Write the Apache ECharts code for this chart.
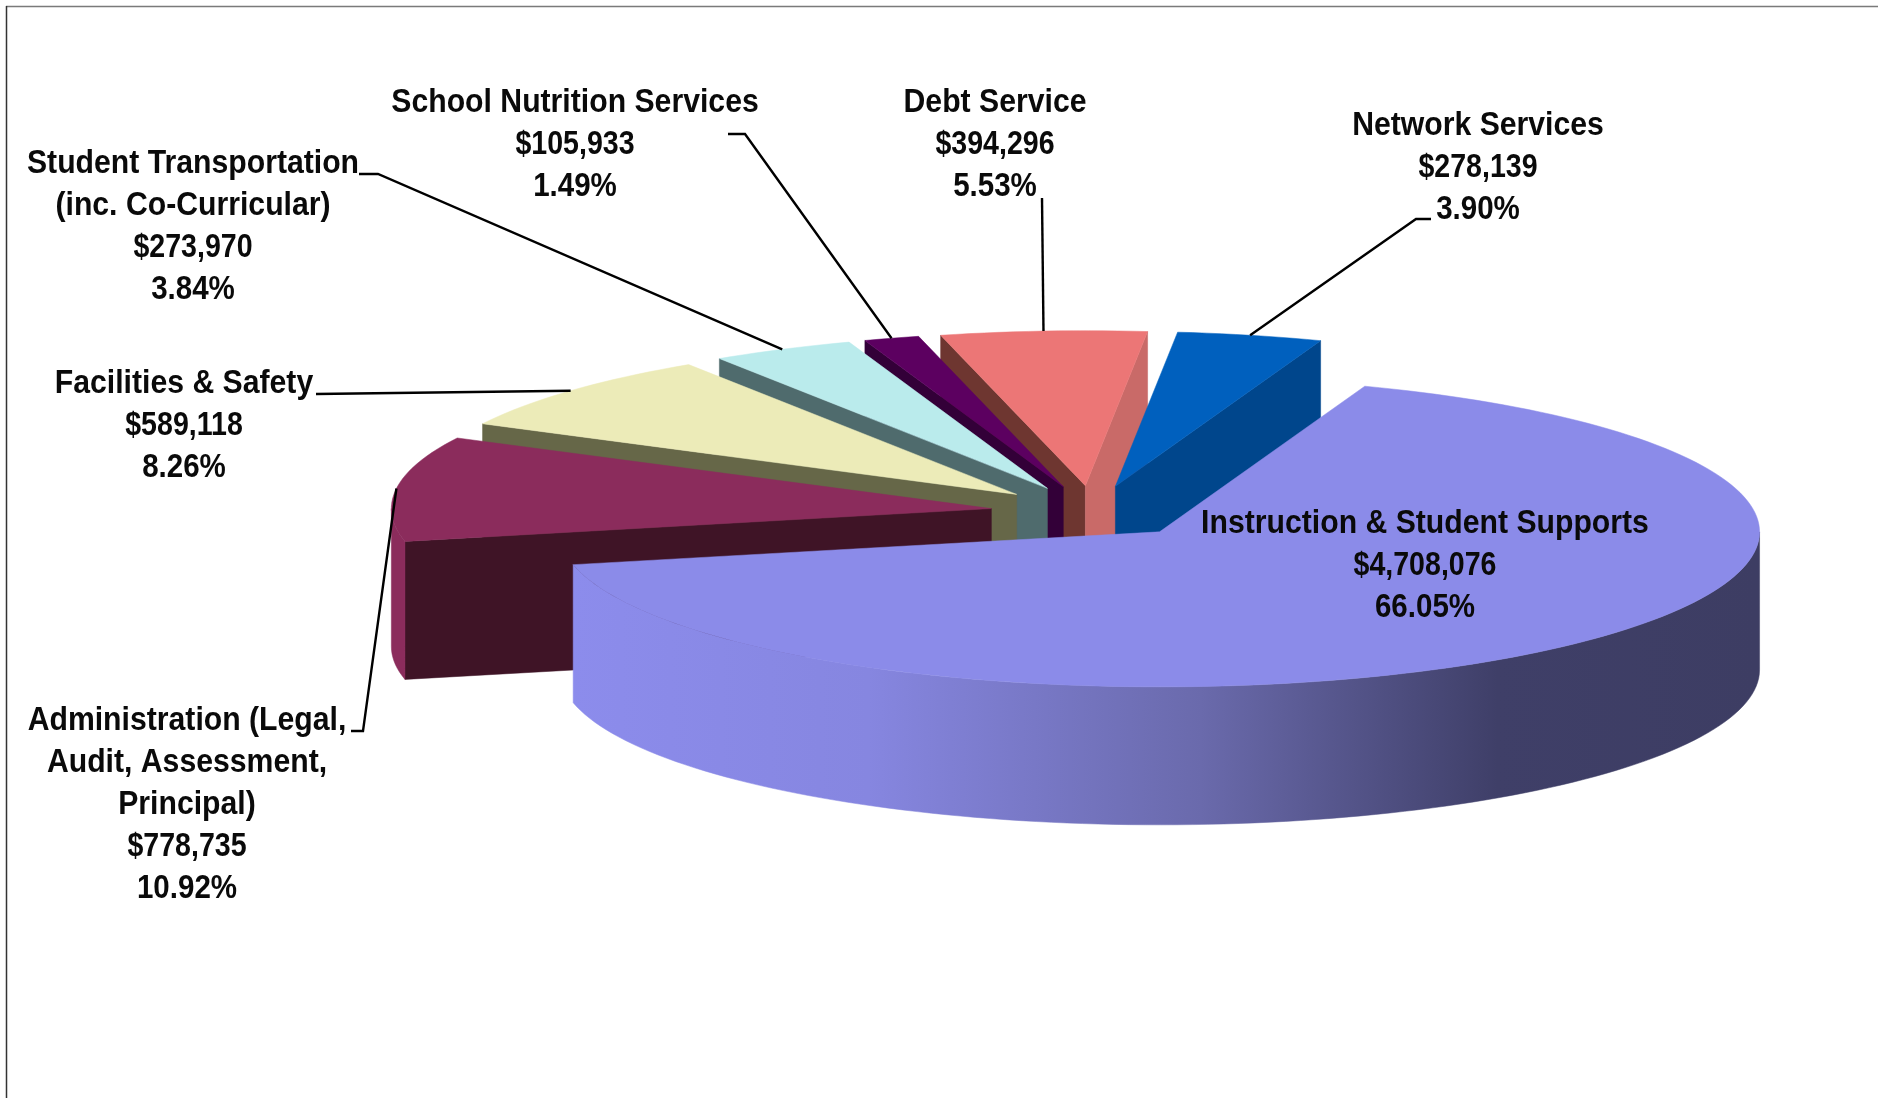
<!DOCTYPE html>
<html>
<head>
<meta charset="utf-8">
<title>Budget by function</title>
<script src="https://cdn.jsdelivr.net/npm/echarts@6/dist/echarts.min.js"></script>
<style>
  html, body { margin: 0; padding: 0; background: #fff; }
  #chart { width: 1878px; height: 1098px; }
</style>
</head>
<body>
<div id="chart"></div>
<script>
// Budget figures, clockwise from the first slice
const nameLines = [
  ['Instruction & Student Supports'],
  ['Administration (Legal,', 'Audit, Assessment,', 'Principal)'],
  ['Facilities & Safety'],
  ['Student Transportation', '(inc. Co-Curricular)'],
  ['School Nutrition Services'],
  ['Debt Service'],
  ['Network Services']
];
const amounts = [4708076, 778735, 589118, 273970, 105933, 394296, 278139];
const percentLabels = ['66.05%', '10.92%', '8.26%', '3.84%', '1.49%', '5.53%', '3.90%'];

// Fill colours per slice
const topColors = ['#8B8BE9', '#8B2C5C', '#ECEBB8', '#BAEBEC', '#5C0060', '#EC7676', '#0060BE'];
const leadingWallColors = ['#8B8BE9', '#3F1426', '#666748', '#4F6B6D', '#330038', '#6E3630', '#00468C'];
const trailingWallColors = ['#8B8BE9', '#3F1426', '#666748', '#4F6B6D', '#330038', '#C96A68', '#00468C'];
const rimColors = ['#8B8BE9', '#8B2C5C', '#ECEBB8', '#BAEBEC', '#5C0060', '#EC7676', '#0060BE'];

// Projection of the tilted pie
const pie = { cx: 1092.5, cy: 512, rx: 600, ry: 155, depth: 138, explode: 0.17, startDeg: 20 };

// Label block centres and leader elbows, by slice
const labelCenterX = [1425, 187, 184, 193, 575, 995, 1478];
const labelTopY = [503, 700, 363, 143, 82, 82, 105];
const leaderElbows = [
  null,
  [[351, 731], [363, 731]],
  [[316, 394]],
  [[359, 174], [378, 174]],
  [[728, 134], [745, 134]],
  [[1042, 198]],
  [[1431, 219], [1416, 219]]
];
const labelFont = { size: 34, lineHeight: 42, nameSqueeze: 0.888, moneySqueeze: 0.84, percentSqueeze: 0.868 };

const total = amounts.reduce((a, b) => a + b, 0);
const RAD = Math.PI / 180;
const slices = [];
amounts.reduce((start, v, i) => {
  const sweep = v / total * 360;
  const mid = start + sweep / 2;
  const e = pie.explode;
  slices.push({
    i, a1: start, a2: start + sweep, mid,
    ax: pie.cx + e * pie.rx * Math.sin(mid * RAD),
    ay: pie.cy - e * pie.ry * Math.cos(mid * RAD)
  });
  return start + sweep;
}, pie.startDeg);

function rimPoint(s, deg, drop) {
  return [s.ax + pie.rx * Math.sin(deg * RAD), s.ay - pie.ry * Math.cos(deg * RAD) + (drop || 0)];
}
function arcPoints(s, from, to, drop) {
  const n = Math.max(2, Math.ceil(Math.abs(to - from) / 1.5));
  const pts = [];
  for (let k = 0; k <= n; k++) pts.push(rimPoint(s, from + (to - from) * k / n, drop));
  return pts;
}
function poly(points, fill) {
  return { type: 'polygon', shape: { points }, style: { fill, stroke: fill, lineWidth: 0.5 } };
}

// Shaded front rim of the largest slice runs from light to dark across the page
const frontShade = new echarts.graphic.LinearGradient(572, 0, 1758, 0, [
  { offset: 0, color: '#8C8CEC' },
  { offset: 0.25, color: '#8686E0' },
  { offset: 0.53, color: '#6A6AAC' },
  { offset: 0.78, color: '#3F3F68' },
  { offset: 1, color: '#3D3D63' }
], true);

function sliceElements(s) {
  const children = [];
  const apex = [s.ax, s.ay];
  const apexLow = [s.ax, s.ay + pie.depth];
  // Cut faces that turn toward the viewer
  if (Math.sin(s.a1 * RAD) < 0) {
    const o = rimPoint(s, s.a1), ol = rimPoint(s, s.a1, pie.depth);
    children.push(poly([apex, o, ol, apexLow], leadingWallColors[s.i]));
  }
  if (Math.sin(s.a2 * RAD) > 0) {
    const o = rimPoint(s, s.a2), ol = rimPoint(s, s.a2, pie.depth);
    children.push(poly([apex, o, ol, apexLow], trailingWallColors[s.i]));
  }
  // Outer wall, only on the front half of the ellipse
  const from = Math.max(s.a1, 90);
  const to = Math.min(s.a2, 270);
  if (to > from) {
    const upper = arcPoints(s, from, to, 0);
    const lower = arcPoints(s, to, from, pie.depth);
    children.push(poly(upper.concat(lower), s.i === 0 ? frontShade : rimColors[s.i]));
  }
  // Top face
  children.push(poly([apex].concat(arcPoints(s, s.a1, s.a2, 0)), topColors[s.i]));
  return { type: 'group', children };
}

// Back slices first so nearer ones overlap them
const paintOrder = slices.slice().sort((a, b) => Math.cos(b.mid * RAD) - Math.cos(a.mid * RAD));

function formatMoney(v) {
  return '$' + v.toString().replace(/\B(?=(\d{3})+$)/g, ',');
}

// One centred, horizontally condensed line of a label block
function labelLine(text, x, y, squeeze) {
  return {
    type: 'text',
    x,
    y,
    scaleX: squeeze,
    style: {
      x: 0,
      y: 0,
      text,
      align: 'center',
      verticalAlign: 'top',
      fontFamily: '"Liberation Sans", Arial, sans-serif',
      fontWeight: 'bold',
      fontSize: labelFont.size,
      lineHeight: labelFont.lineHeight,
      fill: '#0a0a0a'
    }
  };
}

const chart = echarts.init(document.getElementById('chart'));
chart.setOption({
  animation: false,
  backgroundColor: '#ffffff',
  graphic: [
    { type: 'line', shape: { x1: 6, y1: 6.5, x2: 1878, y2: 6.5 }, style: { stroke: '#7a7a7a', lineWidth: 1.5 } },
    { type: 'line', shape: { x1: 6.5, y1: 6, x2: 6.5, y2: 1098 }, style: { stroke: '#333333', lineWidth: 1.5 } }
  ],
  series: [
    {
      type: 'custom',
      coordinateSystem: 'none',
      silent: true,
      z: 1,
      data: paintOrder.map(s => [s.i, amounts[s.i]]),
      renderItem: (params, api) => sliceElements(slices[api.value(0)])
    },
    {
      type: 'custom',
      coordinateSystem: 'none',
      silent: true,
      z: 2,
      data: slices.map(s => [s.i, amounts[s.i]]),
      renderItem: (params, api) => {
        const s = slices[api.value(0)];
        const children = [];
        if (leaderElbows[s.i]) {
          const points = leaderElbows[s.i].concat([rimPoint(s, s.mid)]);
          children.push({
            type: 'polyline',
            shape: { points },
            style: { fill: 'none', stroke: '#000', lineWidth: 2.4 }
          });
        }
        const x = labelCenterX[s.i];
        let y = labelTopY[s.i];
        nameLines[s.i].forEach(line => {
          children.push(labelLine(line, x, y, labelFont.nameSqueeze));
          y += labelFont.lineHeight;
        });
        children.push(labelLine(formatMoney(api.value(1)), x, y, labelFont.moneySqueeze));
        children.push(labelLine(percentLabels[s.i], x, y + labelFont.lineHeight, labelFont.percentSqueeze));
        return { type: 'group', children };
      }
    }
  ]
});
</script>
</body>
</html>
